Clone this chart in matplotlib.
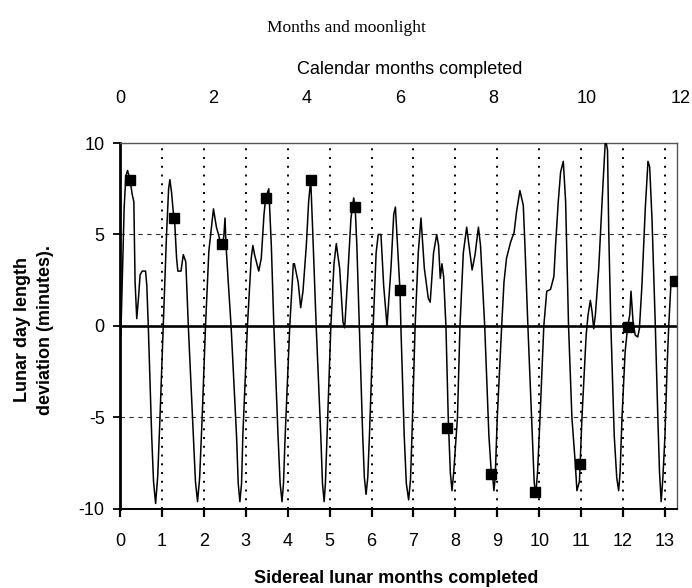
import matplotlib
matplotlib.use("Agg")
import matplotlib.pyplot as plt
import matplotlib.transforms as mtransforms

plt.rcParams['font.family'] = ['Liberation Sans', 'DejaVu Sans']

# lunar day length deviation, traced over 13.3 sidereal months
curve_x = [
    0.02, 0.06, 0.10, 0.14, 0.18, 0.24, 0.29, 0.33, 0.36, 0.40, 0.44, 0.48, 0.53, 0.61, 0.64,
    0.675, 0.756, 0.80, 0.85, 0.90, 0.954, 1.03, 1.11, 1.16, 1.19, 1.23, 1.27, 1.30, 1.35,
    1.38, 1.455, 1.51, 1.57, 1.63, 1.75, 1.80, 1.85, 1.90, 1.96, 2.04, 2.12, 2.23, 2.30,
    2.35, 2.40, 2.45, 2.48, 2.505, 2.53, 2.58, 2.65, 2.78, 2.82, 2.86, 2.90, 2.93, 3.04,
    3.13, 3.17, 3.21, 3.31, 3.37, 3.435, 3.475, 3.55, 3.61, 3.67, 3.77, 3.82, 3.865, 3.90,
    3.94, 4.05, 4.135, 4.16, 4.25, 4.31, 4.365, 4.445, 4.50, 4.55, 4.60, 4.68, 4.79, 4.83,
    4.87, 4.90, 4.94, 5.03, 5.105, 5.16, 5.24, 5.32, 5.36, 5.43, 5.51, 5.575, 5.61, 5.65,
    5.71, 5.79, 5.83, 5.87, 5.91, 5.95, 6.04, 6.11, 6.16, 6.225, 6.29, 6.37, 6.465, 6.53,
    6.57, 6.62, 6.68, 6.70, 6.78, 6.83, 6.885, 6.93, 6.965, 7.04, 7.115, 7.18, 7.26, 7.355,
    7.40, 7.48, 7.555, 7.60, 7.64, 7.68, 7.72, 7.775, 7.83, 7.88, 7.92, 7.96, 8.05, 8.11,
    8.19, 8.27, 8.325, 8.40, 8.47, 8.55, 8.60, 8.70, 8.80, 8.86, 8.89, 8.92, 8.95, 9.00,
    9.105, 9.16, 9.22, 9.32, 9.40, 9.46, 9.54, 9.62, 9.66, 9.73, 9.835, 9.88, 9.915, 9.96,
    10.02, 10.11, 10.18, 10.27, 10.35, 10.39, 10.455, 10.51, 10.575, 10.63, 10.70, 10.78,
    10.86, 10.90, 10.96, 11.02, 11.12, 11.165, 11.22, 11.26, 11.30, 11.34, 11.42, 11.50,
    11.58, 11.63, 11.66, 11.71, 11.79, 11.85, 11.895, 11.93, 11.975, 12.05, 12.11, 12.16,
    12.19, 12.24, 12.29, 12.35, 12.39, 12.45, 12.53, 12.595, 12.635, 12.69, 12.77, 12.83,
    12.87, 12.91, 12.95, 13.00, 13.05, 13.09, 13.14, 13.19, 13.25,
]
curve_y = [
    -0.5, 3.0, 6.5, 8.2, 8.5, 8.0, 7.2, 6.8, 2.4, 0.4, 1.5, 2.8, 3.0, 3.0, 2.2,
    0.0, -6.0, -8.5, -9.7, -8.2, -5.0, -0.1, 5.0, 7.5, 8.0, 7.3, 6.25, 5.9, 3.7,
    3.0, 3.0, 3.9, 3.5, 0.0, -6.0, -8.5, -9.6, -8.3, -5.0, 0.0, 4.1, 6.4, 5.4,
    5.0, 4.5, 4.4, 5.0, 5.9, 4.4, 2.5, 0.0, -6.0, -8.6, -9.6, -8.6, -6.0, 0.0,
    3.7, 4.4, 3.9, 3.0, 3.7, 6.1, 7.0, 7.5, 4.4, 0.0, -6.0, -8.6, -9.6, -8.6,
    -6.0, 0.0, 3.4, 3.4, 2.4, 1.0, 1.9, 4.4, 6.8, 8.0, 5.0, 0.0, -6.0, -8.6,
    -9.6, -8.6, -6.0, 0.0, 3.4, 4.5, 3.15, 0.2, -0.1, 2.6, 5.9, 7.0, 6.5, 4.4,
    0.0, -6.0, -8.3, -9.2, -8.3, -6.0, 0.0, 4.0, 5.0, 5.0, 2.2, 0.0, 3.2, 6.1,
    6.5, 4.4, 1.9, 0.0, -6.0, -8.6, -9.5, -8.4, -6.0, 0.0, 4.0, 5.9, 3.15, 1.5,
    1.3, 4.0, 5.0, 4.4, 2.6, 3.4, 2.7, 0.0, -5.0, -8.0, -9.0, -8.0, -5.0, 0.0,
    4.0, 5.4, 4.4, 3.06, 3.9, 5.4, 4.4, 0.0, -6.0, -8.1, -8.2, -9.0, -8.3, -5.0,
    0.0, 2.4, 3.7, 4.6, 5.1, 6.25, 7.4, 6.6, 4.4, 0.0, -6.0, -8.5, -9.3, -8.0,
    -5.0, 0.0, 1.9, 2.0, 2.7, 4.4, 6.8, 8.4, 9.0, 6.8, 0.0, -5.0,
    -7.5, -9.0, -8.5, -5.0, -0.5, 0.6, 1.4, 0.8, -0.15, 0.6, 3.15, 6.8,
    10.25, 9.6, 5.0, 0.0, -6.0, -8.3, -9.0, -8.0, -5.0, -1.4, -0.05, 0.6,
    1.9, 0.2, -0.5, -0.6, -0.15, 2.2, 6.4, 9.0, 8.7, 5.9, 0.0, -5.0,
    -8.0, -9.6, -8.3, -6.0, -2.3, 0.0, 2.2, 2.4, 2.45,
]

# square markers along the curve
marker_x = [0.24, 1.30, 2.43, 3.475, 4.55, 5.61, 6.68, 7.80, 8.86, 9.90, 10.97, 12.11, 13.25]
marker_y = [8.0, 5.9, 4.5, 7.0, 8.0, 6.5, 1.95, -5.55, -8.1, -9.05, -7.55, -0.05, 2.45]

sidereal_ticks = list(range(0, 14))
calendar_ticks = [0, 2, 4, 6, 8, 10, 12]
y_ticks = [-10, -5, 0, 5, 10]
y_ticklabels = ['-10', '-5', '0', '5', '10']

SIDEREAL = 27.321661
CALENDAR = 30.436875

fig = plt.figure(figsize=(6.92, 5.88), dpi=100)
ax = fig.add_axes([0.1734, 0.1344, 0.8054, 0.6224])

ax.set_xlim(0, 13.295)
ax.set_ylim(-10, 10)

# vertical dotted month lines and dashed +/-5 lines
for m in sidereal_ticks[1:]:
    ax.axvline(m, color='black', lw=1.4, linestyle=(0, (1, 3.5)), zorder=1)
for h in (-5, 5):
    ax.axhline(h, xmax=0.985, color='#333333', lw=0.8, linestyle=(0, (4, 4)), zorder=1)
ax.axhline(0, color='black', lw=1.9, zorder=2)

ax.plot(curve_x, curve_y, color='black', lw=1.1, zorder=3)
ax.plot(marker_x, marker_y, 's', color='black', markersize=6.5, zorder=4)

ax.set_xticks(sidereal_ticks)
ax.set_yticks(y_ticks)
ax.set_yticklabels(y_ticklabels)
ax.tick_params(axis='x', direction='out', length=5.5, width=1.6, pad=12, labelsize=13)
ax.tick_params(axis='y', direction='out', length=5, width=1.3, pad=6, labelsize=13)

ax.spines['left'].set_linewidth(2.0)
ax.spines['bottom'].set_linewidth(1.4)
for side in ('top', 'right'):
    ax.spines[side].set_linewidth(1.0)
    ax.spines[side].set_color('#555555')

# calendar month labels along the top
trans = mtransforms.blended_transform_factory(ax.transData, fig.transFigure)
for m in calendar_ticks:
    ax.text(m * CALENDAR / SIDEREAL, 0.833, str(m), transform=trans,
            ha='center', va='center', fontsize=13, clip_on=False)
fig.text(0.5925, 0.881, 'Calendar months completed', ha='center', va='center', fontsize=13)

fig.text(0.572, 0.017, 'Sidereal lunar months completed', ha='center', va='center',
         fontsize=13, fontweight='bold')
fig.text(0.049, 0.439, 'Lunar day length\ndeviation (minutes).', ha='center', va='center',
         rotation=90, fontsize=13, fontweight='bold', linespacing=1.45)

fig.text(0.5, 0.952, 'Months and moonlight', ha='center', va='center',
         fontsize=12.5, family=['Liberation Serif', 'DejaVu Serif'])

fig.savefig('out.png', dpi=100)
